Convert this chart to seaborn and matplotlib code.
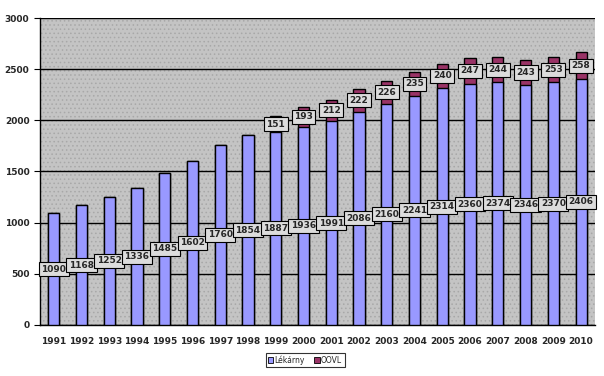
import numpy as np
import pandas as pd
import seaborn as sns
import matplotlib.pyplot as plt
from matplotlib.patches import Patch, Rectangle

years = [str(y) for y in range(1991, 2011)]
lekarny = [1090, 1168, 1252, 1336, 1485, 1602, 1760, 1854, 1887, 1936,
           1991, 2086, 2160, 2241, 2314, 2360, 2374, 2346, 2370, 2406]
oovl = [0, 0, 0, 0, 0, 0, 0, 0, 151, 193,
        212, 222, 226, 235, 240, 247, 244, 243, 253, 258]

df = pd.DataFrame({"rok": years, "Lékárny": lekarny, "OOVL": oovl})
df["total"] = df["Lékárny"] + df["OOVL"]

sns.set_style("white")
plt.rcParams['font.family'] = ['DejaVu Sans']
plt.rcParams['hatch.color'] = '#a8a8a8'
plt.rcParams['hatch.linewidth'] = 0.6

fig = plt.figure(figsize=(6.04, 3.76), dpi=100)
ax = fig.add_axes([0.066, 0.136, 0.919, 0.816])
ax.set_facecolor('#c4c4c4')
# dotted texture of the plot area
ax.add_patch(Rectangle((0, 0), 1, 1, transform=ax.transAxes, facecolor='none',
                       hatch='....', edgecolor='#a8a8a8', linewidth=0, zorder=0.1))

# stacked: total (purple) behind, Lékárny (blue) in front
sns.barplot(data=df, x="rok", y="total", color='#993366', width=0.4,
            edgecolor='black', linewidth=1, saturation=1, ax=ax, zorder=2)
sns.barplot(data=df, x="rok", y="Lékárny", color='#9999ff', width=0.4,
            edgecolor='black', linewidth=1, saturation=1, ax=ax, zorder=3)

box = dict(boxstyle='square,pad=0.28', facecolor='#dcdcdc', edgecolor='black', linewidth=0.8)
for i, (l, o) in enumerate(zip(lekarny, oovl)):
    ax.text(i, l / 2, str(l), ha='center', va='center', fontsize=6.5,
            fontweight='heavy', bbox=box, zorder=5)
    if o > 0:
        ax.text(i, l + o / 2, str(o), ha='center', va='center', fontsize=6.5,
                fontweight='heavy', bbox=box, zorder=5)

ax.set_ylim(0, 3000)
ax.set_xlim(-0.5, len(years) - 0.5)
ax.set_yticks(np.arange(0, 3001, 500))
ax.yaxis.grid(True, color='black', linewidth=1)
ax.set_axisbelow(True)
ax.set_xlabel("")
ax.set_ylabel("")

for s in ['top', 'right']:
    ax.spines[s].set_visible(False)
for s in ['left', 'bottom']:
    ax.spines[s].set_color('black')
    ax.spines[s].set_linewidth(1)

ax.tick_params(axis='x', which='major', length=0, pad=9, labelsize=6.5)
ax.set_xticks(np.arange(-0.5, len(years), 1), minor=True)
ax.tick_params(axis='x', which='minor', length=4, color='black', direction='out')
ax.tick_params(axis='y', length=4, color='black', direction='out', labelsize=6.5, left=True)
for t in ax.get_xticklabels() + ax.get_yticklabels():
    t.set_fontweight('heavy')

handles = [Patch(facecolor='#9999ff', edgecolor='black', linewidth=0.6),
           Patch(facecolor='#993366', edgecolor='black', linewidth=0.6)]
leg = fig.legend(handles, ["Lékárny", "OOVL"], loc='center', bbox_to_anchor=(0.505, 0.043),
                 ncol=2, fontsize=5.5, frameon=True, fancybox=False, handlelength=0.7,
                 handleheight=0.7, handletextpad=0.2, columnspacing=1.2, borderpad=0.3)
leg.get_frame().set_edgecolor('black')
leg.get_frame().set_linewidth(0.8)

fig.savefig("out.png", dpi=100)
